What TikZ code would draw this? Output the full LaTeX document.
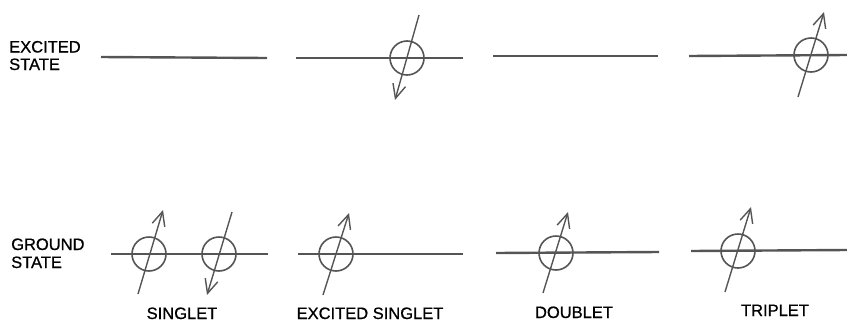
\documentclass[tikz,border=0pt]{standalone}
\usepackage{fontspec}
\setmainfont{Liberation Sans}[FakeBold=0.8]
\usetikzlibrary{arrows.meta}
\definecolor{ink}{HTML}{555555}
\tikzset{
  level/.style={draw=ink, line width=2.4pt},
  orb/.style={draw=ink, line width=1.6pt, circle, minimum size=34pt, inner sep=0pt},
  spin/.style={draw=ink, line width=1.4pt, -{Straight Barb[length=14pt,width=13pt,line width=1.4pt]}},
  lbl/.style={font=\fontsize{16.5}{17.5}\selectfont, inner sep=0pt},
}
\begin{document}
\begin{tikzpicture}[x=1pt,y=-1pt]
\useasboundingbox (0,0) rectangle (847,322);
% labels
\node[lbl,anchor=base west] (exA) at (9,52.5) {EXCITED};
\node[lbl,anchor=base west] (exB) at (9,70) {STATE};
\node[lbl,anchor=base west] (grA) at (11,250) {GROUND};
\node[lbl,anchor=base west] (grB) at (11,268) {STATE};
\node[lbl,anchor=base] (lsing) at (182,319) {SINGLET};
\node[lbl,anchor=base] (lexs) at (370,319) {EXCITED SINGLET};
\node[lbl,anchor=base] (ldoub) at (574,318) {DOUBLET};
\node[lbl,anchor=base] (ltrip) at (775,316) {TRIPLET};
% level end points
\coordinate (t1a) at (101,57); \coordinate (t1b) at (267,58);
\coordinate (t2a) at (296,58); \coordinate (t2b) at (463,58);
\coordinate (t3a) at (493,56); \coordinate (t3b) at (658,56);
\coordinate (t4a) at (689,56); \coordinate (t4b) at (847,55);
\coordinate (b1a) at (111,254); \coordinate (b1b) at (268,254);
\coordinate (b2a) at (298,254); \coordinate (b2b) at (463,254);
\coordinate (b3a) at (496,253); \coordinate (b3b) at (659,252);
\coordinate (b4a) at (691,251); \coordinate (b4b) at (847,250);
\foreach \p in {t1,t2,t3,t4,b1,b2,b3,b4}{\draw[level] (\p a) -- (\p b);}
% orbitals
\node[orb] (o1) at (407,58) {};
\node[orb] (o2) at (811,55) {};
\node[orb] (o3) at (149,254) {};
\node[orb] (o4) at (219,254) {};
\node[orb] (o5) at (336,254) {};
\node[orb] (o6) at (556,253) {};
\node[orb] (o7) at (738,251) {};
% spin arrows
\coordinate (s1a) at (419,15);  \coordinate (s1b) at (395,100);
\coordinate (s2a) at (798,97);  \coordinate (s2b) at (824,12);
\coordinate (s3a) at (138,294); \coordinate (s3b) at (163,210);
\coordinate (s4a) at (232,212); \coordinate (s4b) at (207,295);
\coordinate (s5a) at (323,295); \coordinate (s5b) at (349,213);
\coordinate (s6a) at (543,293); \coordinate (s6b) at (568,212);
\coordinate (s7a) at (725,292); \coordinate (s7b) at (751,207);
\foreach \s in {s1,s2,s3,s4,s5,s6,s7}{\draw[spin] (\s a) -- (\s b);}
\end{tikzpicture}
\end{document}
